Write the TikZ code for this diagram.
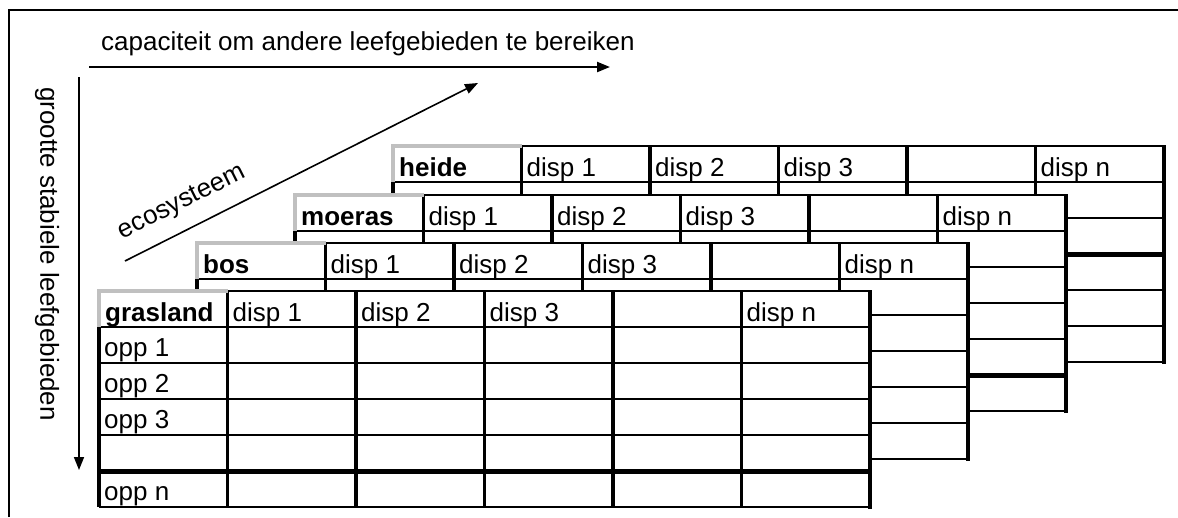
\documentclass[tikz,border=0pt]{standalone}
\usepackage{fontspec}
\setmainfont{Liberation Sans}
\usetikzlibrary{arrows.meta}
\definecolor{shadegray}{HTML}{C0C0C0}
\newcommand\ecotab[6]{%
\begin{scope}[shift={(#2,#3)}]
 \fill[white] (0,0) rectangle (771,216);
 \foreach \r in {36,72,108,144,180,216} \draw[rowline] (0,\r) -- (771,\r);
 \draw[line width=#6] (0,#5) -- (771,#5);
 \foreach \c in {1,...,5} \draw[colline] (128.5*\c,0) -- (128.5*\c,216);
 \draw[rowline] (128.5,0) -- (771,0);
 \draw[colline] (0,36) -- (0,216);
 \draw[edgeline] (771,-1) -- (771,217.5);
 \draw[shadeline] (0,36) -- (0,0) -- (128.5,0);
 \node[txt,font=\fontsize{26}{30}\selectfont\bfseries] (#1-lbl) at (6,30) {#4};
 \foreach \c/\t in {1/disp 1,2/disp 2,3/disp 3,5/disp n}
   \node[txt] (#1-d\c) at (128.5*\c+5,30) {\t};
\end{scope}}
\begin{document}
\begin{tikzpicture}[x=1pt,y=-1pt,
  rowline/.style={line width=2.3pt},
  colline/.style={line width=3.3pt},
  edgeline/.style={line width=4.2pt},
  shadeline/.style={line width=4pt,draw=shadegray},
  txt/.style={font=\fontsize{26}{30}\selectfont, inner sep=0pt, anchor=base west},
  axis/.style={line width=1.6pt,-{Triangle[length=13pt,width=10pt]}}
]
\useasboundingbox (0,0) rectangle (1178,517);
\fill[white] (0,0) rectangle (1178,517);
% frame
\draw[line width=2pt] (9,517) -- (9,10) -- (1178,10);
% axes
\coordinate (hA) at (89,67);
\coordinate (hB) at (610,67);
\draw[axis,line width=2.2pt] (hA) -- (hB);
\node[txt] (htext) at (101,50) {capaciteit om andere leefgebieden te bereiken};
\coordinate (vA) at (79,77);
\coordinate (vB) at (79,470);
\draw[axis] (vA) -- (vB);
\node[txt,anchor=center,rotate=-90] (vtext) at (47,254) {grootte stabiele leefgebieden};
\coordinate (dA) at (125,261);
\coordinate (dB) at (478,83);
\draw[axis] (dA) -- (dB);
\node[txt,anchor=center,rotate=26.7] (dtext) at (182,203) {ecosysteem};
% tables, back to front
\ecotab{heide}{393}{146}{heide}{108}{5pt}
\ecotab{moeras}{295}{195}{moeras}{180}{5pt}
\ecotab{bos}{197}{243}{bos}{72}{2.3pt}
\ecotab{gras}{99}{291}{grasland}{180}{5pt}
\node[txt] (opp1) at (104,356) {opp 1};
\node[txt] (opp2) at (104,392) {opp 2};
\node[txt] (opp3) at (104,428) {opp 3};
\node[txt] (oppn) at (104,500) {opp n};
\end{tikzpicture}
\end{document}
